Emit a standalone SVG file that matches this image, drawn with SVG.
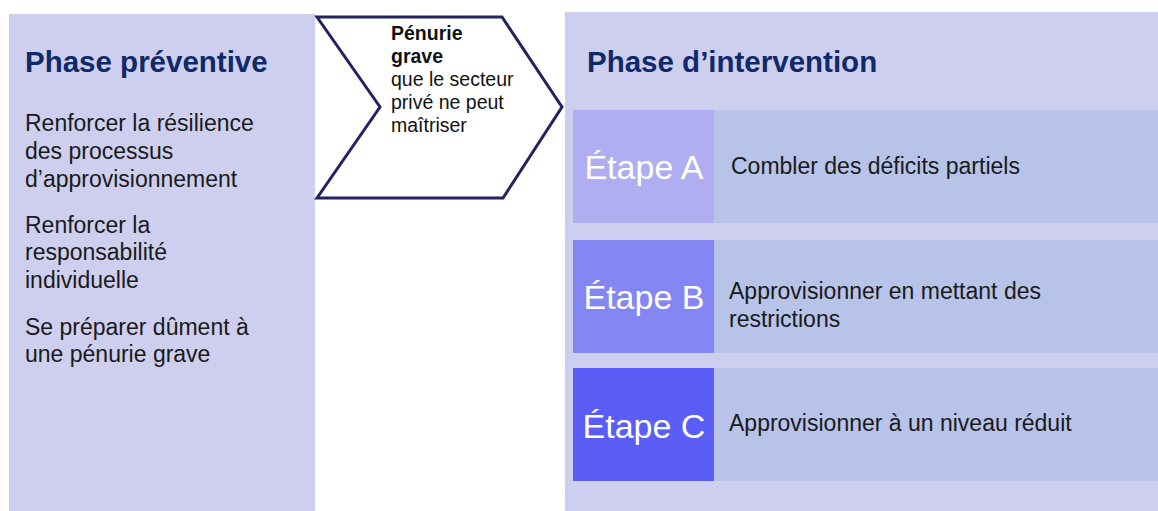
<svg xmlns="http://www.w3.org/2000/svg" width="1158" height="511" viewBox="0 0 1158 511">
<style>
.panel{fill:#CECEEE}
.row{fill:#B7C3E8}
.title{font-family:"Liberation Sans",Arial,sans-serif;font-weight:bold;font-size:29.5px;fill:#0F2A6A}
.body{font-family:"Liberation Sans",Arial,sans-serif;font-size:23px;fill:#1A1A1A}
.chev{font-family:"Liberation Sans",Arial,sans-serif;font-size:19.5px;fill:#111}
.etape{font-family:"Liberation Sans",Arial,sans-serif;font-size:34px;fill:#FFFFFF;text-anchor:middle}
</style>
<rect width="1158" height="511" fill="#FFFFFF"/>
<g id="phase-preventive">
<rect class="panel" x="9" y="14" width="306" height="497"/>
<text class="title" x="25" y="72">Phase préventive</text>
<text class="body" x="25" y="131">Renforcer la résilience</text>
<text class="body" x="25" y="159">des processus</text>
<text class="body" x="25" y="187">d’approvisionnement</text>
<text class="body" x="25" y="233">Renforcer la</text>
<text class="body" x="25" y="260">responsabilité</text>
<text class="body" x="25" y="288">individuelle</text>
<text class="body" x="25" y="335">Se préparer dûment à</text>
<text class="body" x="25" y="362">une pénurie grave</text>
</g>
<g id="penurie">
<polygon points="317,17 502,17 562,107 503,198 317,198 380,107" fill="#FFFFFF" stroke="#23235F" stroke-width="3" stroke-linejoin="miter"/>
<text class="chev" x="391" y="40" font-weight="bold">Pénurie</text>
<text class="chev" x="391" y="63" font-weight="bold">grave</text>
<text class="chev" x="391" y="86">que le secteur</text>
<text class="chev" x="391" y="109">privé ne peut</text>
<text class="chev" x="391" y="132">maîtriser</text>
</g>
<g id="phase-intervention">
<rect class="panel" x="565" y="12" width="593" height="499"/>
<text class="title" x="587" y="72">Phase d’intervention</text>
</g>
<g id="etape-a">
<rect class="row" x="573" y="110" width="585" height="113"/>
<rect x="573" y="110" width="141" height="113" fill="#AFAEF0"/>
<text class="etape" x="644" y="179">Étape A</text>
<text class="body" x="731" y="174">Combler des déficits partiels</text>
</g>
<g id="etape-b">
<rect class="row" x="573" y="240" width="585" height="113"/>
<rect x="573" y="240" width="141" height="113" fill="#8487F3"/>
<text class="etape" x="644" y="309">Étape B</text>
<text class="body" x="729" y="299">Approvisionner en mettant des</text>
<text class="body" x="729" y="327">restrictions</text>
</g>
<g id="etape-c">
<rect class="row" x="573" y="368" width="585" height="113"/>
<rect x="573" y="368" width="141" height="113" fill="#5A5EF6"/>
<text class="etape" x="644" y="438">Étape C</text>
<text class="body" x="729" y="431">Approvisionner à un niveau réduit</text>
</g>
<g id="connectors"></g>
</svg>
